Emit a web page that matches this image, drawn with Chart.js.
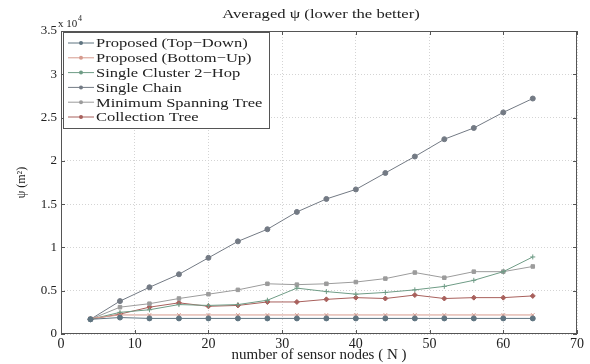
<!DOCTYPE html>
<html>
<head>
<meta charset="utf-8">
<script src="https://cdn.jsdelivr.net/npm/chart.js@4.4.1/dist/chart.umd.min.js"></script>
<style>
  html, body { margin: 0; padding: 0; background: #fff; }
  #wrap { width: 590px; height: 364px; }
</style>
</head>
<body>
<div id="wrap"><canvas id="myChart" width="590" height="364"></canvas></div>
<script>
// number of sensor nodes
const nodes = [4, 8, 12, 16, 20, 24, 28, 32, 36, 40, 44, 48, 52, 56, 60, 64];

// averaged psi, in units of 10^4 m^2
const topDown = [0.17, 0.19, 0.18, 0.18, 0.18, 0.18, 0.18, 0.18, 0.18, 0.18, 0.18, 0.18, 0.18, 0.18, 0.18, 0.18];
const bottomUp = [0.18, 0.22, 0.22, 0.22, 0.22, 0.22, 0.22, 0.22, 0.22, 0.22, 0.22, 0.22, 0.22, 0.22, 0.22, 0.22];
const singleCluster = [0.17, 0.25, 0.28, 0.34, 0.33, 0.34, 0.39, 0.53, 0.49, 0.46, 0.48, 0.51, 0.55, 0.62, 0.72, 0.89];
const singleChain = [0.17, 0.38, 0.54, 0.69, 0.88, 1.07, 1.21, 1.41, 1.56, 1.67, 1.86, 2.05, 2.25, 2.38, 2.56, 2.72];
const minSpanTree = [0.17, 0.31, 0.35, 0.41, 0.46, 0.51, 0.58, 0.57, 0.58, 0.60, 0.64, 0.71, 0.65, 0.72, 0.72, 0.78];
const collectionTree = [0.17, 0.23, 0.31, 0.36, 0.32, 0.33, 0.37, 0.37, 0.40, 0.42, 0.41, 0.45, 0.41, 0.42, 0.42, 0.44];

const seriesNames = ['Proposed (Top\u2212Down)', 'Proposed (Bottom\u2212Up)', 'Single Cluster 2\u2212Hop',
  'Single Chain', 'Minimum Spanning Tree', 'Collection Tree'];
const seriesData = [topDown, bottomUp, singleCluster, singleChain, minSpanTree, collectionTree];
const seriesColors = ['#5f7480', '#d69a8e', '#6f9c86', '#737a84', '#9c9c9c', '#a8605c'];
const seriesMarkers = ['circle', 'crossRot', 'cross', 'circle', 'rect', 'rectRot'];

const serif = '"Liberation Serif", "DejaVu Serif", serif';

const datasets = seriesData.map((vals, i) => ({
    label: seriesNames[i],
    data: vals.map((v, j) => ({ x: nodes[j], y: v })),
    borderColor: seriesColors[i],
    backgroundColor: seriesColors[i],
    borderWidth: 1,
    pointStyle: seriesMarkers[i],
    pointRadius: 2.5,
    pointBorderWidth: 1,
    tension: 0
}));

// the scanned figure is a bit wider than tall, so stretch the text sideways
function stretchText(ctx, text, x, y, sx) {
    ctx.save();
    ctx.translate(x, y);
    ctx.scale(sx, 1);
    ctx.fillText(text, 0, 0);
    ctx.restore();
}

// matlab look: box, inward ticks, title, exponent note, legend in the corner
const matlabLook = {
    id: 'matlabLook',
    afterDraw(chart) {
        const { ctx, chartArea: a, scales } = chart;
        ctx.save();
        ctx.strokeStyle = '#555';
        ctx.lineWidth = 1;
        ctx.setLineDash([]);
        ctx.strokeRect(a.left + 0.5, a.top + 0.5, a.right - a.left - 1, a.bottom - a.top - 1);

        // inward ticks
        ctx.beginPath();
        scales.x.ticks.forEach(t => {
            const px = Math.round(scales.x.getPixelForValue(t.value)) + 0.5;
            ctx.moveTo(px, a.bottom); ctx.lineTo(px, a.bottom - 4);
            ctx.moveTo(px, a.top); ctx.lineTo(px, a.top + 4);
        });
        scales.y.ticks.forEach(t => {
            const py = Math.round(scales.y.getPixelForValue(t.value)) + 0.5;
            ctx.moveTo(a.left, py); ctx.lineTo(a.left + 4, py);
            ctx.moveTo(a.right, py); ctx.lineTo(a.right - 4, py);
        });
        ctx.stroke();

        // title and exponent
        ctx.fillStyle = '#222';
        ctx.font = '13px ' + serif;
        ctx.textAlign = 'center';
        ctx.textBaseline = 'middle';
        stretchText(ctx, 'Averaged \u03c8 (lower the better)', 321, 15, 1.28);
        ctx.textAlign = 'left';
        ctx.font = '11px ' + serif;
        ctx.fillText('x 10', a.left - 3, 24);
        ctx.font = '8px ' + serif;
        ctx.fillText('4', a.left + 17, 19);

        // legend
        const lx = a.left + 2, ly = a.top + 1, lw = 206, lh = 96;
        ctx.fillStyle = '#fff';
        ctx.fillRect(lx, ly, lw, lh);
        ctx.strokeStyle = '#555';
        ctx.strokeRect(lx + 0.5, ly + 0.5, lw, lh);
        ctx.font = '13px ' + serif;
        chart.data.datasets.forEach((ds, i) => {
            const y = ly + 11 + i * 14.8;
            ctx.strokeStyle = ds.borderColor;
            ctx.lineWidth = 1;
            ctx.beginPath();
            ctx.moveTo(lx + 5, y); ctx.lineTo(lx + 31, y);
            ctx.stroke();
            ctx.fillStyle = ds.borderColor;
            ctx.beginPath();
            ctx.arc(lx + 18, y, 2, 0, Math.PI * 2);
            ctx.fill();
            ctx.fillStyle = '#222';
            stretchText(ctx, ds.label, lx + 33, y + 1, 1.27);
        });
        ctx.restore();
    }
};

const ctx = document.getElementById('myChart').getContext('2d');
const myChart = new Chart(ctx, {
    type: 'line',
    data: { datasets },
    options: {
        responsive: false,
        animation: false,
        layout: { padding: { top: 31, right: 13, left: 0, bottom: 0 } },
        plugins: { legend: { display: false }, tooltip: { enabled: false } },
        scales: {
            x: {
                type: 'linear',
                min: 0, max: 70,
                ticks: { stepSize: 10, color: '#222', font: { family: serif, size: 14 }, padding: 2 },
                grid: { color: '#d4d4d4', drawTicks: false },
                border: { display: false, dash: [1, 2] },
                title: { display: true, text: 'number of sensor nodes ( N )', color: '#222',
                         font: { family: serif, size: 15 }, padding: { top: 0, bottom: 0 } },
                afterFit(scale) { scale.height = 30; }
            },
            y: {
                min: 0, max: 3.5,
                ticks: { stepSize: 0.5, color: '#222', font: { family: serif, size: 13 }, padding: 4,
                         callback: v => String(Math.round(v * 10) / 10) },
                grid: { color: '#d4d4d4', drawTicks: false },
                border: { display: false, dash: [1, 2] },
                title: { display: true, text: '\u03c8 (m\u00b2)', color: '#222',
                         font: { family: serif, size: 12 }, padding: { top: 15, bottom: 0 } },
                afterFit(scale) { scale.width = 61; }
            }
        }
    },
    plugins: [matlabLook]
});
</script>
</body>
</html>
